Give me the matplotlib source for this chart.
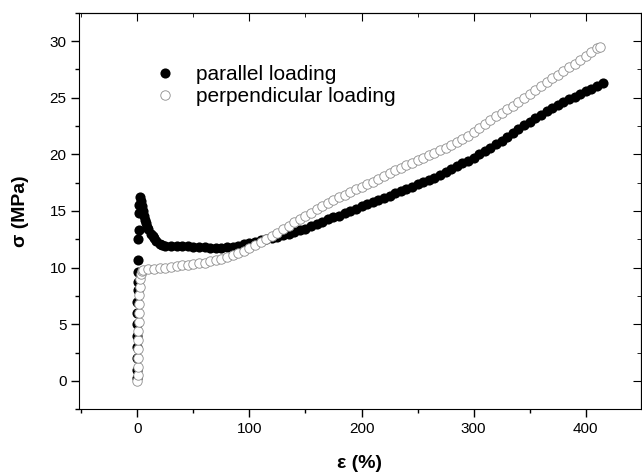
import matplotlib
matplotlib.use('Agg')
import matplotlib.pyplot as plt
from matplotlib.ticker import MultipleLocator

plt.rcParams['font.family'] = ['Liberation Sans', 'DejaVu Sans']

# parallel loading: strain (%) and stress (MPa)
par_strain = [0, 0, 0, 0, 0, 0, 0, 0, 0.3, 0.5, 0.7, 0.8, 1.0, 1.2, 1.3, 1.5, 2, 3, 4,
              5, 6, 7, 8, 9, 10, 12, 14, 15, 17, 20, 22, 25, 30, 35, 40, 45, 50, 55, 60, 65, 70, 75, 80, 85, 90, 95,
              100, 105, 110, 115, 120, 125, 130, 135, 140, 145, 150, 155, 160, 165, 170,
              175, 180, 185, 190, 195, 200, 205, 210, 215, 220, 225, 230, 235, 240, 245,
              250, 255, 260, 265, 270, 275, 280, 285, 290, 295, 300, 305, 310, 315, 320,
              325, 330, 335, 340, 345, 350, 355, 360, 365, 370, 375, 380, 385, 390, 395,
              400, 405, 410, 415]
par_stress = [0.3, 1, 2, 3, 4, 5, 6, 7, 8, 8.7, 9.6, 10.7, 12.5, 13.3, 14.8, 15.5, 16.2, 15.9, 15.4,
              15.0, 14.6, 14.2, 13.9, 13.6, 13.4, 13.0, 12.75, 12.6, 12.35, 12.1, 12.0, 11.95, 11.95, 11.95, 11.9, 11.9, 11.85, 11.8, 11.8, 11.75, 11.75, 11.75, 11.8, 11.85, 11.95, 12.05,
              12.15, 12.25, 12.4, 12.5, 12.6, 12.7, 12.85, 13.0, 13.15, 13.3, 13.45, 13.65, 13.85, 14.05, 14.25,
              14.45, 14.6, 14.8, 15.0, 15.2, 15.4, 15.6, 15.8, 15.95, 16.15, 16.35, 16.55, 16.75, 16.95, 17.15,
              17.35, 17.55, 17.75, 17.95, 18.2, 18.45, 18.7, 18.95, 19.2, 19.45, 19.7, 20.0, 20.3, 20.6, 20.9,
              21.2, 21.55, 21.9, 22.2, 22.55, 22.85, 23.2, 23.5, 23.8, 24.05, 24.35, 24.6, 24.85, 25.1, 25.35,
              25.6, 25.8, 26.05, 26.3]

# perpendicular loading
perp_strain = [0, 0.3, 0.5, 0.5, 0.8, 1, 1, 1.2, 1.3, 1.5, 1.8, 2, 2.5, 3, 4,
               5, 10, 15, 20, 25, 30, 35, 40, 45, 50, 55, 60, 65, 70, 75, 80, 85, 90, 95,
               100, 105, 110, 115, 120, 125, 130, 135, 140, 145, 150, 155, 160, 165, 170,
               175, 180, 185, 190, 195, 200, 205, 210, 215, 220, 225, 230, 235, 240, 245,
               250, 255, 260, 265, 270, 275, 280, 285, 290, 295, 300, 305, 310, 315, 320,
               325, 330, 335, 340, 345, 350, 355, 360, 365, 370, 375, 380, 385, 390, 395,
               400, 405, 410, 413]
perp_stress = [0, 0.5, 1.2, 2, 2.8, 3.6, 4.4, 5.2, 6, 6.8, 7.6, 8.3, 9.0, 9.4, 9.7,
               9.8, 9.85, 9.9, 9.95, 10.0, 10.05, 10.1, 10.2, 10.25, 10.3, 10.4, 10.45, 10.55, 10.65, 10.8, 10.95, 11.1, 11.25, 11.5,
               11.75, 12.0, 12.25, 12.5, 12.8, 13.1, 13.4, 13.7, 14.0, 14.3, 14.55, 14.85, 15.15, 15.4, 15.7,
               15.95, 16.25, 16.45, 16.7, 16.9, 17.15, 17.35, 17.6, 17.85, 18.1, 18.35, 18.6, 18.8, 19.05, 19.25,
               19.5, 19.7, 19.95, 20.15, 20.4, 20.6, 20.85, 21.1, 21.35, 21.65, 21.95, 22.3, 22.65, 23.0, 23.35,
               23.65, 24.0, 24.3, 24.65, 24.95, 25.3, 25.65, 26.0, 26.35, 26.7, 27.0, 27.35, 27.7, 28.0, 28.35,
               28.7, 29.05, 29.35, 29.5]

fig = plt.figure(figsize=(6.42, 4.72), dpi=100)
ax = fig.add_axes([0.123, 0.133, 0.875, 0.840])

ax.plot(par_strain, par_stress, 'o', color='black', markersize=7.3, markeredgewidth=0,
        linestyle='none', label='parallel loading', zorder=2)
ax.plot(perp_strain, perp_stress, 'o', markerfacecolor='white', markeredgecolor='0.55',
        markeredgewidth=0.6, markersize=6.8, linestyle='none',
        label='perpendicular loading', zorder=3)

ax.set_xlim(-52, 449)
ax.set_ylim(-2.5, 32.5)
ax.xaxis.set_major_locator(MultipleLocator(100))
ax.xaxis.set_minor_locator(MultipleLocator(50))
ax.yaxis.set_major_locator(MultipleLocator(5))
ax.yaxis.set_minor_locator(MultipleLocator(2.5))
ax.tick_params(which='major', direction='out', length=6, width=1, labelsize=11, pad=3)
ax.tick_params(which='minor', direction='out', length=3, width=1)

# top and right ticks point inward
top = ax.secondary_xaxis('top')
top.xaxis.set_major_locator(MultipleLocator(100))
top.xaxis.set_minor_locator(MultipleLocator(50))
top.tick_params(which='major', direction='in', length=6, labeltop=False)
top.tick_params(which='minor', direction='in', length=3)
right = ax.secondary_yaxis('right')
right.yaxis.set_major_locator(MultipleLocator(5))
right.yaxis.set_minor_locator(MultipleLocator(2.5))
right.tick_params(which='major', direction='in', length=6, labelright=False)
right.tick_params(which='minor', direction='in', length=3)

ax.set_xlabel('ε (%)', fontsize=14, fontweight='bold', labelpad=14)
ax.set_ylabel('σ (MPa)', fontsize=14, fontweight='bold', labelpad=15)

ax.legend(loc='upper left', bbox_to_anchor=(0.12, 0.888), frameon=False, fontsize=15,
          handletextpad=1.0, labelspacing=0.12, handlelength=1.0, borderaxespad=0)

fig.savefig('out.png', dpi=100)
